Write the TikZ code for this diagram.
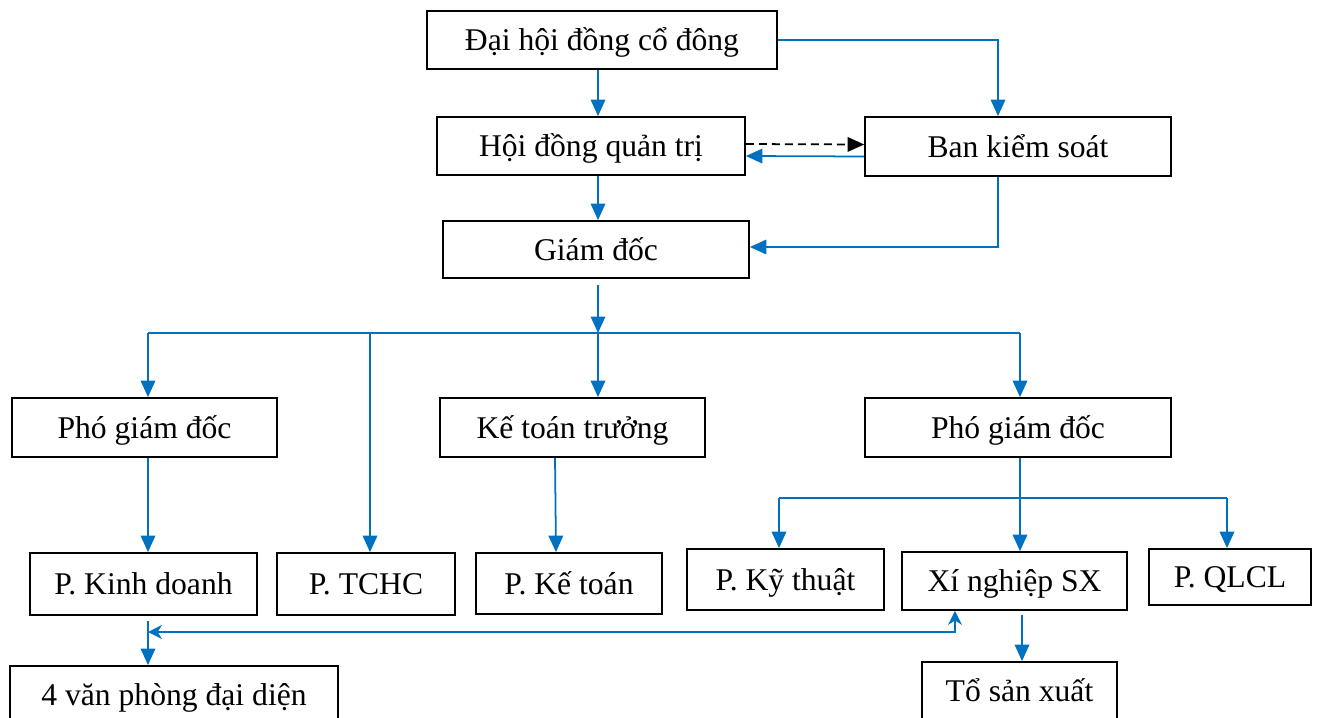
\documentclass[tikz,border=0pt]{standalone}
\usepackage{fontspec}
\setmainfont{Liberation Serif}
\usepackage{xcolor}
\usepackage{tikz}
\usetikzlibrary{arrows.meta, positioning, calc}
\definecolor{linkblue}{HTML}{0070C0}
\tikzset{
  unit/.style={draw, line width=1pt, inner sep=0pt, minimum height=1.16cm, text height=16pt, text depth=4pt},
  link/.style={-{Triangle[length=3.3mm, width=2.9mm]}, draw=linkblue, line width=1pt},
  bus/.style={draw=linkblue, line width=1pt},
  twoway/.style={{Stealth[length=2.8mm, width=2.8mm, inset=0.9mm]}-{Stealth[length=2.8mm, width=2.8mm, inset=0.9mm]}, draw=linkblue, line width=1pt},
  control/.style={-{Triangle[length=3.3mm, width=2.9mm]}, black, line width=1pt, dash pattern=on 1.6mm off 1mm}
}

\begin{document}
\begin{tikzpicture}[x=0.02cm, y=-0.02cm, font=\fontsize{18}{22}\selectfont]
        \clip (0,0) rectangle (1319,717);

        % Top management
        \node[unit, minimum width=7.0cm]  (dhcd) at (602, 40)   {Đại hội đồng cổ đông};
        \node[unit, minimum width=6.16cm] (hdqt) at (591,146)   {Hội đồng quản trị};
        \node[unit, minimum width=6.12cm, minimum height=1.18cm] (bks) at (1018,146.5) {Ban kiểm soát};
        \node[unit, minimum width=6.12cm, minimum height=1.14cm] (gd)  at (596,249.5) {Giám đốc};

        % Deputies
        \node[unit, minimum width=5.3cm,  minimum height=1.18cm] (pgd1) at (144.5,427.5) {Phó giám đốc};
        \node[unit, minimum width=5.3cm,  minimum height=1.18cm] (ktt)  at (572.5,427.5) {Kế toán trưởng};
        \node[unit, minimum width=6.12cm, minimum height=1.18cm] (pgd2) at (1018,427.5)  {Phó giám đốc};

        % Departments
        \node[unit, minimum width=4.54cm, minimum height=1.24cm] (pkd)   at (143.5,584)   {P. Kinh doanh};
        \node[unit, minimum width=3.56cm, minimum height=1.24cm] (ptchc) at (366,584)     {P. TCHC};
        \node[unit, minimum width=3.72cm, minimum height=1.22cm] (pkt)   at (569,583.5)   {P. Kế toán};
        \node[unit, minimum width=3.94cm, minimum height=1.22cm] (pkyt)  at (785.5,579.5) {P. Kỹ thuật};
        \node[unit, minimum width=4.5cm]                         (xnsx)  at (1014.5,581)  {Xí nghiệp SX};
        \node[unit, minimum width=3.24cm, minimum height=1.12cm] (pqlcl) at (1230,577)    {P. QLCL};

        % Bottom row
        \node[unit, minimum width=6.56cm] (vpdd) at (174,695)    {4 văn phòng đại diện};
        \node[unit, minimum width=3.9cm]  (tosx) at (1019.5,691) {Tổ sản xuất};

        % Bends
        \coordinate (bus)  at (598,333);
        \coordinate (sub)  at (1020,498);
        \coordinate (back) at (148,632);

        % Links
        \draw[link] (dhcd.south -| bus) -- (hdqt.north -| bus);
        \draw[link] (dhcd.east) -| (bks.north -| 998,0);
        \draw[control] ([yshift=0.04cm]hdqt.east) -- ([yshift=0.04cm]bks.west);
        \draw[link] ([yshift=-0.2cm]bks.west) -- ([yshift=-0.2cm]hdqt.east);
        \draw[link] (hdqt.south -| bus) -- (gd.north -| bus);
        \draw[link] (bks.south -| 998,0) |- ([yshift=0.05cm]gd.east);
        \draw[link, shorten <=0.12cm] (gd.south -| bus) -- (bus);

        \draw[bus] (bus -| back) -- (bus -| sub);
        \draw[link] (bus -| back) -- (pgd1.north -| back);
        \draw[link] (bus -| 370,0) -- (ptchc.north -| 370,0);
        \draw[link] (bus) -- (ktt.north -| bus);
        \draw[link] (bus -| sub) -- (pgd2.north -| sub);

        \draw[link] (pgd1.south -| back) -- (pkd.north -| back);
        \draw[link] (ktt.south -| 555,0) -- (pkt.north -| 556,0);
        \draw[link] (pgd2.south -| sub) -- (xnsx.north -| sub);
        \draw[bus] (sub -| 779,0) -- (sub -| 1227,0);
        \draw[link] (sub -| 779,0) -- (pkyt.north -| 779,0);
        \draw[link] (sub -| 1227,0) -- (pqlcl.north -| 1227,0);

        \draw[link, shorten <=0.08cm] (xnsx.south -| 1022,0) -- (tosx.north -| 1022,0);
        \draw[link, shorten <=0.1cm] (pkd.south -| back) -- (vpdd.north -| back);
        \draw[twoway] (back) -| (xnsx.south -| 955,0);
    \end{tikzpicture}
\end{document}
